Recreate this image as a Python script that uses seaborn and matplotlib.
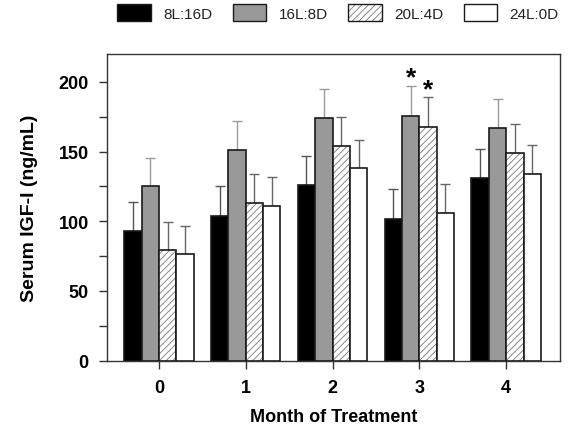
import matplotlib
matplotlib.use("Agg")
import matplotlib.pyplot as plt
import matplotlib.colors as mcolors
from matplotlib.patches import Patch
from matplotlib.ticker import MultipleLocator
import numpy as np
import pandas as pd
import seaborn as sns

# ---- data ----
months = ["0", "1", "2", "3", "4"]
groups = ["8L:16D", "16L:8D", "20L:4D", "24L:0D"]
mean_8L16D = [93.1, 103.8, 126.0, 101.7, 130.8]
mean_16L8D = [125.3, 151.3, 174.2, 175.6, 167.1]
mean_20L4D = [79.2, 113.1, 153.9, 167.8, 148.9]
mean_24L0D = [76.4, 111.2, 138.2, 106.2, 133.9]
sem_8L16D = [20.7, 21.5, 21.0, 21.2, 21.2]
sem_16L8D = [20.3, 20.8, 20.5, 21.5, 20.7]
sem_20L4D = [20.6, 20.8, 21.0, 21.2, 21.0]
sem_24L0D = [20.5, 20.5, 20.5, 20.5, 20.7]
sig_month = ["3", "3"]
sig_group = ["16L:8D", "20L:4D"]

means = [mean_8L16D, mean_16L8D, mean_20L4D, mean_24L0D]
sems = [sem_8L16D, sem_16L8D, sem_20L4D, sem_24L0D]

df = pd.DataFrame({
    "month": [m for g in groups for m in months],
    "group": [g for g in groups for m in months],
    "igf": [v for arr in means for v in arr],
    "err": [v for arr in sems for v in arr],
})

# ---- style ----
sns.set_theme(style="white")
plt.rcParams["font.family"] = ["Liberation Sans", "DejaVu Sans"]
plt.rcParams["hatch.linewidth"] = 0.6

fills = ["#000000", "#999999", "#ffffff", "#ffffff"]
hatches = [None, None, "/////", None]
err_colors = ["#555555", "#9a9a9a", "#666666", "#666666"]
edge = "#1a1a1a"
hatch_col = "#777777"

fig = plt.figure(figsize=(5.68, 4.27), dpi=100)
ax = fig.add_axes([0.188, 0.153, 0.798, 0.718])

sns.barplot(data=df, x="month", y="igf", hue="group", hue_order=groups,
            order=months, palette=fills, errorbar=None, width=0.8,
            edgecolor=edge, linewidth=1.2, saturation=1, legend=False,
            ax=ax, zorder=3)

bar_conts = list(ax.containers)
for i, cont in enumerate(bar_conts):
    xs, ys = [], []
    for bar in cont:
        if hatches[i]:
            bar.set_hatch(hatches[i])
            bar._hatch_color = mcolors.to_rgba(hatch_col)
        xs.append(bar.get_x() + bar.get_width() / 2)
        ys.append(bar.get_height())
    errs = sems[i]
    ax.errorbar(xs, ys, yerr=[np.zeros(len(errs)), errs], fmt="none",
                ecolor=err_colors[i], elinewidth=1.0, capsize=3.3,
                capthick=1.0, zorder=2)
    for j in range(len(xs)):
        for sm, sg in zip(sig_month, sig_group):
            if sg == groups[i] and sm == months[j]:
                ax.text(xs[j], ys[j] + errs[j] + 1.0, "*", ha="center",
                        va="baseline", fontsize=19, fontweight="bold",
                        color="black", zorder=5)

ax.set_ylim(0, 220)
ax.set_xlim(-0.6, 4.62)
ax.yaxis.set_major_locator(MultipleLocator(50))
ax.yaxis.set_minor_locator(MultipleLocator(25))
ax.tick_params(axis="both", which="major", direction="out", length=6,
               width=1, color="#333333", labelsize=13, pad=7,
               labelcolor="black")
ax.tick_params(axis="y", which="minor", direction="out", length=6,
               width=1, color="#333333", left=True)
ax.tick_params(axis="x", bottom=True)
ax.tick_params(axis="y", left=True)
for lab in ax.get_xticklabels() + ax.get_yticklabels():
    lab.set_fontweight("bold")

for sp in ax.spines.values():
    sp.set_visible(True)
    sp.set_color("#333333")
    sp.set_linewidth(1.0)

ax.set_xlabel("Month of Treatment", fontsize=13, fontweight="bold",
              labelpad=9, color="black")
ax.set_ylabel("Serum IGF-I (ng/mL)", fontsize=14, fontweight="bold",
              labelpad=15, color="black")

handles = []
for i, g in enumerate(groups):
    p = Patch(facecolor=fills[i], edgecolor=edge, linewidth=1.0,
              hatch=hatches[i], label=g)
    if hatches[i]:
        p._hatch_color = mcolors.to_rgba(hatch_col)
    handles.append(p)
fig.legend(handles=handles, loc="upper center", bbox_to_anchor=(0.595, 1.02),
           ncol=4, frameon=False, fontsize=11, handlelength=2.2,
           handleheight=1.3, handletextpad=0.8, columnspacing=1.35,
           labelcolor="#222222")

fig.savefig("out.png", dpi=100)
